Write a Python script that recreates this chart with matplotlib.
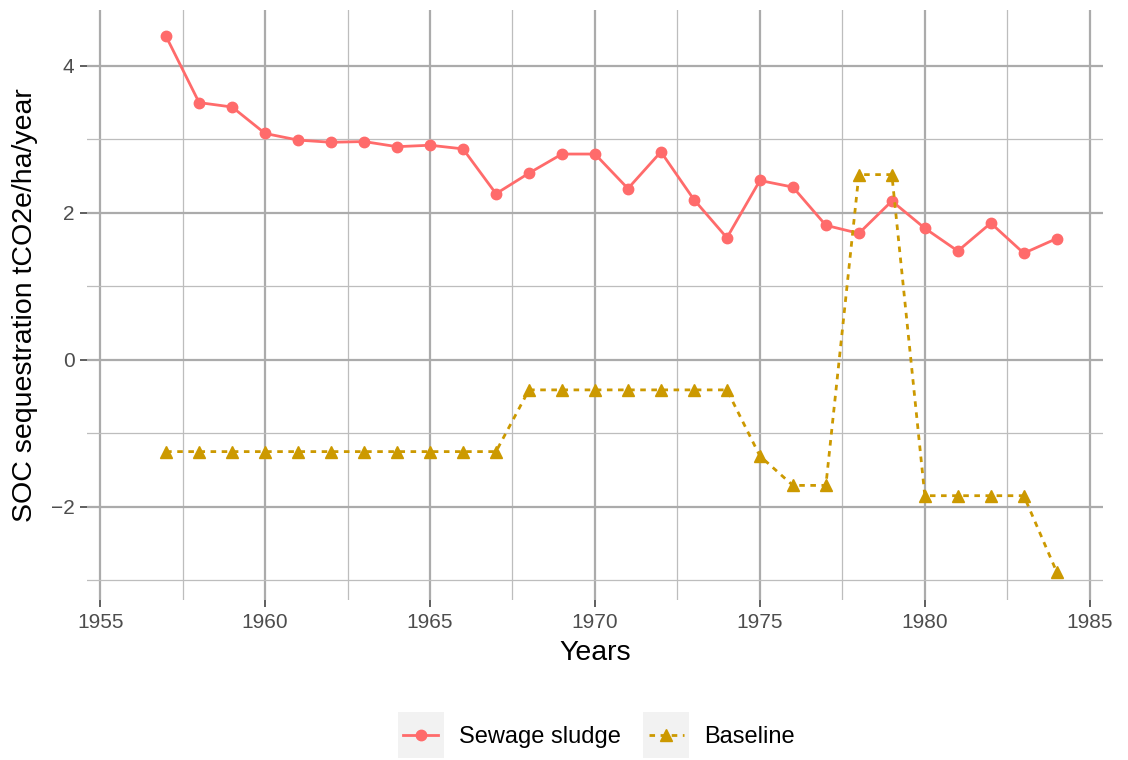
import matplotlib.pyplot as plt
from matplotlib.patches import Rectangle
from matplotlib.ticker import MultipleLocator

years = list(range(1957, 1985))

sewage_sludge = [4.40, 3.50, 3.44, 3.08, 2.99, 2.96, 2.97, 2.90, 2.92, 2.87,
                 2.26, 2.54, 2.80, 2.80, 2.33, 2.83, 2.18, 1.66, 2.44, 2.35,
                 1.83, 1.72, 2.16, 1.79, 1.48, 1.86, 1.45, 1.65]

baseline = [-1.25, -1.25, -1.25, -1.25, -1.25, -1.25, -1.25, -1.25, -1.25, -1.25,
            -1.25, -0.41, -0.41, -0.41, -0.41, -0.41, -0.41, -0.41, -1.31, -1.71,
            -1.71, 2.52, 2.52, -1.85, -1.85, -1.85, -1.85, -2.89]

plt.rcParams['font.family'] = ['Liberation Sans', 'DejaVu Sans']

fig = plt.figure(figsize=(11.28, 7.6), dpi=100)
ax = fig.add_axes([0.0771, 0.2105, 0.9007, 0.7763])

red = "#FF6B6B"
gold = "#CC9900"

ax.plot(years, sewage_sludge, color=red, lw=2.0, marker="o", markersize=7.5,
        label="Sewage sludge", zorder=3)
ax.plot(years, baseline, color=gold, lw=2.0, linestyle=(0, (2, 2)), marker="^",
        markersize=8.5, label="Baseline", zorder=3)

ax.set_xlim(1954.6, 1985.4)
ax.set_ylim(-3.27, 4.76)

ax.xaxis.set_major_locator(MultipleLocator(5))
ax.xaxis.set_minor_locator(MultipleLocator(2.5))
ax.yaxis.set_major_locator(MultipleLocator(2))
ax.yaxis.set_minor_locator(MultipleLocator(1))

ax.grid(which="major", color="#ababab", lw=1.6)
ax.grid(which="minor", color="#bdbdbd", lw=0.9)
ax.set_axisbelow(True)
for s in ax.spines.values():
    s.set_visible(False)

ax.tick_params(which="major", length=5, width=1.1, color="#333333",
               labelsize=15, labelcolor="#4d4d4d", pad=4)
ax.tick_params(which="minor", length=0)
ax.set_yticks([-2, 0, 2, 4])
ax.set_yticklabels(["\u22122", "0", "2", "4"])

ax.set_xlabel("Years", fontsize=20.5, labelpad=6)
ax.set_ylabel("SOC sequestration tCO2e/ha/year", fontsize=20.5, labelpad=9)

leg = fig.legend(loc="center", bbox_to_anchor=(0.531, 0.0303), ncol=2,
                 frameon=False, fontsize=17, handlelength=1.5,
                 handletextpad=0.85, columnspacing=1.2, borderaxespad=0)

# grey key boxes behind the legend handles
fig.canvas.draw()
for h in leg.get_lines():
    bb = h.get_window_extent(fig.canvas.get_renderer())
    cx = (bb.x0 + bb.x1) / 2
    cy = (bb.y0 + bb.y1) / 2
    w = 46 / fig.bbox.width
    hgt = 46 / fig.bbox.height
    fig.patches.append(Rectangle((cx / fig.bbox.width - w / 2, cy / fig.bbox.height - hgt / 2),
                                 w, hgt, transform=fig.transFigure,
                                 facecolor="#f2f2f2", edgecolor="none", zorder=0))

fig.savefig("out.png", dpi=100)
